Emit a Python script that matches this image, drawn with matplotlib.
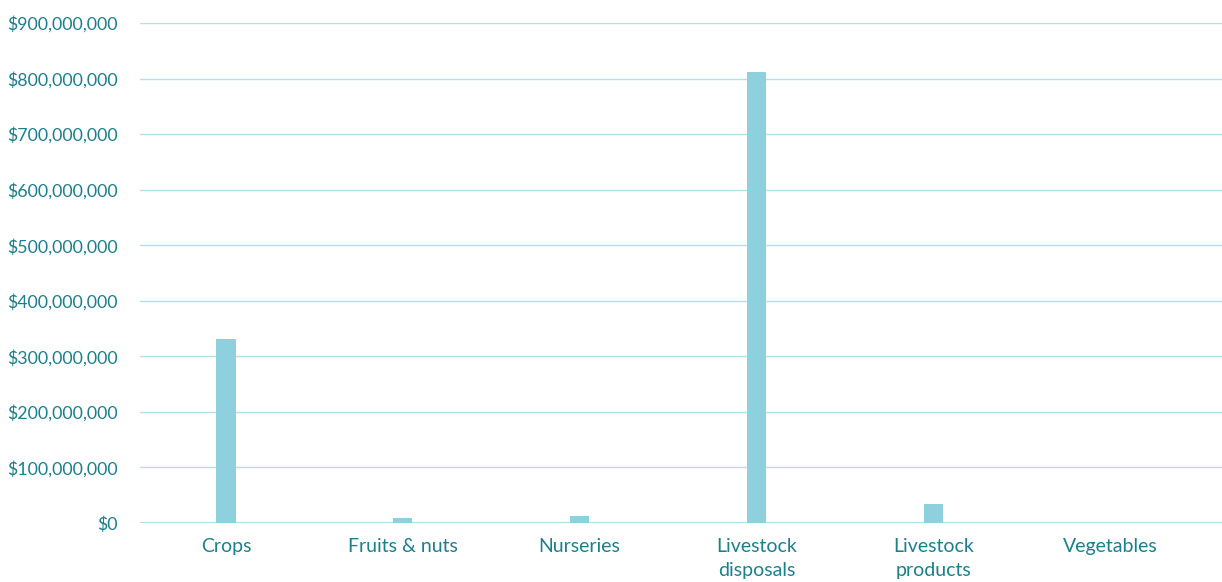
import matplotlib
matplotlib.use("Agg")
import matplotlib.pyplot as plt
from matplotlib.ticker import FuncFormatter

categories = ["Crops", "Fruits & nuts", "Nurseries", "Livestock\ndisposals",
              "Livestock\nproducts", "Vegetables"]
values = [331_500_000, 9_000_000, 12_500_000, 812_500_000, 34_000_000, 500_000]
yticks = [0, 100_000_000, 200_000_000, 300_000_000, 400_000_000,
          500_000_000, 600_000_000, 700_000_000, 800_000_000, 900_000_000]

bar_color = "#8fd0df"
grid_color = "#b3e0e8"
text_color = "#1b7f8c"

W, H = 1222, 582
fig = plt.figure(figsize=(W / 100, H / 100), dpi=100)
ax = fig.add_axes([140 / W, 1 - 523 / H, (1222 - 140) / W, 500 / H])

x = list(range(len(categories)))
ax.bar(x, values, width=0.11, color=bar_color, zorder=3)

ax.set_ylim(0, 900_000_000)
ax.set_xlim(-0.486, 5.633)
ax.set_yticks(yticks)
ax.yaxis.set_major_formatter(FuncFormatter(lambda v, p: f"${v:,.0f}"))
ax.set_xticks(x)
ax.set_xticklabels(categories, linespacing=1.48)

for t in yticks:
    ax.axhline(t, color=grid_color, lw=1.6 if t == 0 else 1.0, zorder=1)

for s in ax.spines.values():
    s.set_visible(False)
ax.tick_params(axis="both", length=0, colors=text_color)
ax.tick_params(axis="y", pad=16, labelsize=12.8)
ax.tick_params(axis="x", pad=11, labelsize=14)
for lab in ax.get_xticklabels() + ax.get_yticklabels():
    lab.set_fontfamily("Lato")
    lab.set_color(text_color)

fig.savefig("out.png", dpi=100, facecolor="white")
